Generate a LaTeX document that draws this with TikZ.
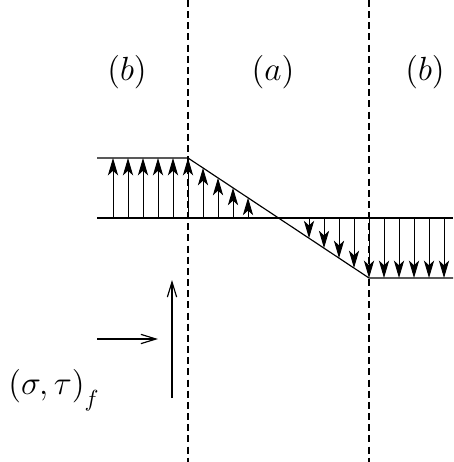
\documentclass[tikz,border=0pt]{standalone}
\usetikzlibrary{arrows.meta}
\begin{document}
\begin{tikzpicture}[x=0.43pt, y=-0.43pt,
  font=\fontsize{14}{16}\selectfont,
  wall/.style={line width=1.1pt, dash pattern=on 3pt off 1.8pt},
  prof/.style={line width=0.5pt},
  load/.style={-{Stealth[length=7.5pt, width=4.4pt, inset=2pt]}, line width=0.4pt},
  flux/.style={-{Straight Barb[length=6.5pt, width=4pt]}, line width=0.5pt},
]
\useasboundingbox (0,0) rectangle (453,462);
% interfaces
\draw[wall] (188,0) -- (188,462);
\draw[wall] (369,0) -- (369,462);
% stress profile
\coordinate (tl) at (97,158);
\coordinate (tk) at (188,158);
\coordinate (bk) at (369,278);
\coordinate (br) at (453,278);
\coordinate (ml) at (97,218);
\coordinate (mr) at (453,218);
\draw[prof] (ml) -- (mr);
\draw[prof] (tl) -- (tk) -- (bk) -- (br);
\foreach \x in {113,128,...,188} \draw[load] (\x,218) -- (\x,158);
\foreach \x in {203,218,233,248,309,324,339,354}
  \draw[load] (\x,218) -- (\x,{158+(\x-188)/181*120});
\foreach \x in {369,384,...,444} \draw[load] (\x,218) -- (\x,278);
% labels
\node (lb) at (127,72) {$(b)$};
\node (ma) at (273,72) {$(a)$};
\node (rb) at (425,72) {$(b)$};
\node (sf) at (54,390) {$(\sigma,\tau)_{\raisebox{-3pt}{$\scriptstyle f$}}$};
% incoming flux
\coordinate (h0) at (97,339);
\coordinate (h1) at (158,339);
\coordinate (v0) at (172,398);
\coordinate (v1) at (172,280);
\draw[flux] (h0) -- (h1);
\draw[flux] (v0) -- (v1);
\end{tikzpicture}
\end{document}
